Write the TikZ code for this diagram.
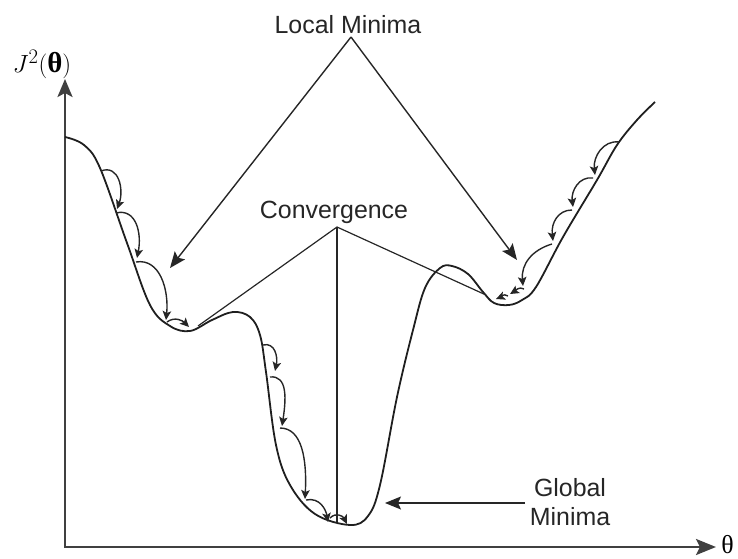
\documentclass[tikz,border=0pt]{standalone}
\usepackage{fontspec}
\setmainfont{Liberation Sans}
\newfontfamily\greekserif{Liberation Serif}
\usetikzlibrary{arrows.meta}
\begin{document}
\begin{tikzpicture}[x=1bp,y=-1bp,
  axisline/.style={line width=2.6bp, draw=black!75,
    {Stealth[length=18bp,width=15bp,inset=4bp]}-{Stealth[length=20bp,width=16bp,inset=4bp]}},
  costcurve/.style={line width=1.8bp, draw=black!88, line join=round},
  callout/.style={line width=1.4bp, draw=black!85,
    -{Stealth[length=16bp,width=13bp,inset=3bp]}},
  guide/.style={line width=1.2bp, draw=black!85},
  hop/.style={line width=1.4bp, draw=black!85,
    -{Stealth[length=9bp,width=8.5bp,inset=2bp]}},
  label/.style={font=\fontsize{25}{29}\selectfont, text=black!85, inner sep=0pt}
]
% page frame
\useasboundingbox (0,0) rectangle (738,559);

% axes
\coordinate (origin) at (65,547);
\coordinate (ytip) at (65,79);
\coordinate (xtip) at (716,547);
\draw[axisline] (ytip) -- (origin) -- (xtip);
\node[inner sep=0pt, font=\fontsize{29}{33}\selectfont] (ylab) at (42,64)
  {$J^{2}(\mbox{\greekserif\bfseries θ})$};
\node[inner sep=0pt, anchor=east, font=\fontsize{26}{30}\greekserif] (xlab) at (734,545) {θ};

% cost function
\draw[costcurve] plot[smooth, tension=0.6] coordinates {
  (65,137) (84,145) (100,168) (127,243) (150,305)
  (170,326) (190,331) (212,320) (233,312) (250,317)
  (260,335) (266,372) (276,445) (290,485) (315,514)
  (350,525) (368,516) (380,485) (397,397) (413,330)
  (425,288) (440,268) (452,266) (468,274) (483,292)
  (494,303) (509,305) (522,300) (536,287) (563,237) (597,180)
  (617,145) (637,120) (655,102)};

% gradient steps, left valley
\coordinate (a0) at (101,171); \coordinate (a1) at (117,209);
\coordinate (a2) at (116,213); \coordinate (a3) at (137,258);
\coordinate (a4) at (136,262); \coordinate (a5) at (166,320);
\coordinate (a6) at (167,322); \coordinate (a7) at (189,327);
\draw[hop] (a0) .. controls +(18,-7) and +(7,-19) .. (a1);
\draw[hop] (a2) .. controls +(20,-5) and +(5,-25) .. (a3);
\draw[hop] (a4) .. controls +(24,-4) and +(3,-30) .. (a5);
\draw[hop] (a6) .. controls +(8,-6) and +(-6,-6) .. (a7);

% gradient steps, global valley
\coordinate (g0) at (263,345); \coordinate (g1) at (275,371);
\coordinate (g2) at (270,377); \coordinate (g3) at (282,426);
\coordinate (g4) at (280,428); \coordinate (g5) at (305,499);
\coordinate (g6) at (306,500); \coordinate (g7) at (328,522);
\coordinate (g8) at (330,518); \coordinate (g9) at (347,524);
\draw[hop] (g0) .. controls +(12,-3) and +(3,-14) .. (g1);
\draw[hop] (g2) .. controls +(18,-2) and +(4,-26) .. (g3);
\draw[hop] (g4) .. controls +(22,0) and +(2,-40) .. (g5);
\draw[hop] (g6) .. controls +(14,-3) and +(-2,-12) .. (g7);
\draw[hop] (g8) .. controls +(6,-6) and +(-4,-8) .. (g9);

% gradient steps, right valley
\coordinate (r0) at (619,142); \coordinate (r1) at (595,175);
\coordinate (r2) at (593,178); \coordinate (r3) at (573,207);
\coordinate (r4) at (572,210); \coordinate (r5) at (553,241);
\coordinate (r6) at (552,244); \coordinate (r7) at (523,286);
\coordinate (r8) at (524,289); \coordinate (r9) at (510,294);
\coordinate (r10) at (508,296); \coordinate (r11) at (496,299);
\draw[hop] (r0) .. controls +(-16,-2) and +(-2,-18) .. (r1);
\draw[hop] (r2) .. controls +(-14,-2) and +(-2,-16) .. (r3);
\draw[hop] (r4) .. controls +(-14,0) and +(-2,-18) .. (r5);
\draw[hop] (r6) .. controls +(-20,6) and +(-2,-22) .. (r7);
\draw[hop] (r8) .. controls +(-5,-3) and +(5,-3) .. (r9);
\draw[hop] (r10) .. controls +(-5,-3) and +(5,-2) .. (r11);

% local minima callout
\node[label] (lm) at (348,25) {Local Minima};
\coordinate (lmapex) at (351,37);
\coordinate (lmleft) at (170,268);
\coordinate (lmright) at (517,260);
\draw[callout] (lmapex) -- (lmleft);
\draw[callout] (lmapex) -- (lmright);

% convergence callout
\node[label] (conv) at (334,212) {Convergence};
\coordinate (cvapex) at (337,227);
\coordinate (cvleft) at (198,326);
\coordinate (cvmid) at (337,522);
\coordinate (cvright) at (486,295);
\draw[guide] (cvleft) -- (cvapex) -- (cvright);
\draw[guide] (cvapex) -- (cvmid);

% global minimum callout
\node[label, align=center] (gm) at (570,502) {Global\\Minima};
\coordinate (gmtail) at (525,503);
\coordinate (gmtip) at (385,503);
\draw[callout] (gmtail) -- (gmtip);
\end{tikzpicture}
\end{document}
